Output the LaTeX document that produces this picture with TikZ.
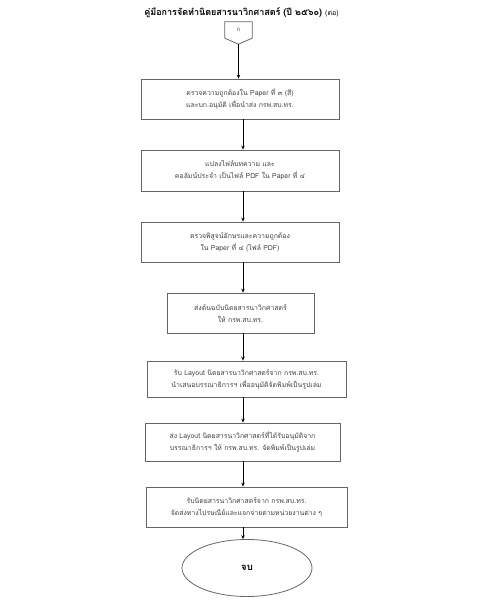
\documentclass[tikz,border=0pt]{standalone}
\usepackage{fontspec}
\setmainfont[Script=Thai]{Loma}
\usetikzlibrary{calc,shapes.geometric,arrows.meta}
\tikzset{
  procbox/.style={draw=black!60, line width=0.8pt, rectangle, align=center, inner sep=0pt, font=\fontsize{6.9}{12}\selectfont, text=black!75},
  flow/.style={draw=black, line width=0.8pt, -{Stealth[length=4pt,width=3.5pt]}},
}
\begin{document}
\begin{tikzpicture}[x=1pt,y=1pt]
\useasboundingbox (0,0) rectangle (488,600);
% title
\node (title) at (241.5,587) {\fontsize{9}{11}\selectfont\bfseries คู่มือการจัดทำนิตยสารนาวิกศาสตร์ (ปี ๒๕๖๐) {\mdseries\fontsize{7}{9}\selectfont (ต่อ)}};
% off-page connector
\node[minimum width=27pt, minimum height=16pt, inner sep=0pt, font=\fontsize{6}{7}\selectfont, text=black!70] (conn) at (238.5,570) {ก};
\coordinate (tip) at ($(conn.south)+(0,-6)$);
\draw[black!60, line width=0.8pt] (conn.north west) -- (conn.north east) -- (conn.south east) -- (tip) -- (conn.south west) -- cycle;
% boxes
\node[procbox, minimum width=198pt, minimum height=40pt] (b1) at (240,501) {ตรวจความถูกต้องใน Paper ที่ ๓ (สี)\\และบก.อนุมัติ เพื่อนำส่ง กรพ.สบ.ทร.};
\node[procbox, minimum width=198pt, minimum height=41pt] (b2) at (240,429.5) {แปลงไฟล์บทความ และ\\คอลัมน์ประจำ เป็นไฟล์ PDF ใน Paper ที่ ๔};
\node[procbox, minimum width=198pt, minimum height=40pt] (b3) at (240,358) {ตรวจพิสูจน์อักษรและความถูกต้อง\\ใน Paper ที่ ๔ (ไฟล์ PDF)};
\node[procbox, minimum width=147pt, minimum height=40pt] (b4) at (240.5,287) {ส่งต้นฉบับนิตยสารนาวิกศาสตร์\\ให้ กรพ.สบ.ทร.};
\node[procbox, minimum width=199pt, minimum height=36pt] (b5) at (246.5,221) {รับ Layout นิตยสารนาวิกศาสตร์จาก กรพ.สบ.ทร.\\นำเสนอบรรณาธิการฯ เพื่ออนุมัติจัดพิมพ์เป็นรูปเล่ม};
\node[procbox, minimum width=195pt, minimum height=38pt] (b6) at (242.5,158) {ส่ง Layout นิตยสารนาวิกศาสตร์ที่ได้รับอนุมัติจาก\\บรรณาธิการฯ ให้ กรพ.สบ.ทร. จัดพิมพ์เป็นรูปเล่ม};
\node[procbox, minimum width=201pt, minimum height=40pt] (b7) at (246.5,93) {รับนิตยสารนาวิกศาสตร์จาก กรพ.สบ.ทร.\\จัดส่งทางไปรษณีย์และแจกจ่ายตามหน่วยงานต่าง ๆ};
\node[draw=black!60, line width=0.8pt, ellipse, minimum width=130pt, minimum height=57pt, inner sep=0pt, font=\fontsize{9.5}{11}\selectfont\bfseries] (end) at (247,32) {จบ};
% connectors
\coordinate (ax) at (243,0);
\draw[flow] (tip) -- (tip |- b1.north);
\draw[flow] (b1.south -| ax) -- (b2.north -| ax);
\draw[flow] (b2.south -| ax) -- (b3.north -| ax);
\draw[flow] (b3.south -| ax) -- (b4.north -| ax);
\draw[flow] (b4.south -| ax) -- (b5.north -| ax);
\draw[flow] (b5.south -| ax) -- (b6.north -| ax);
\draw[flow] (b6.south -| ax) -- (b7.north -| ax);
\draw[flow] (b7.south -| ax) -- (end.north -| ax);
\end{tikzpicture}
\end{document}
